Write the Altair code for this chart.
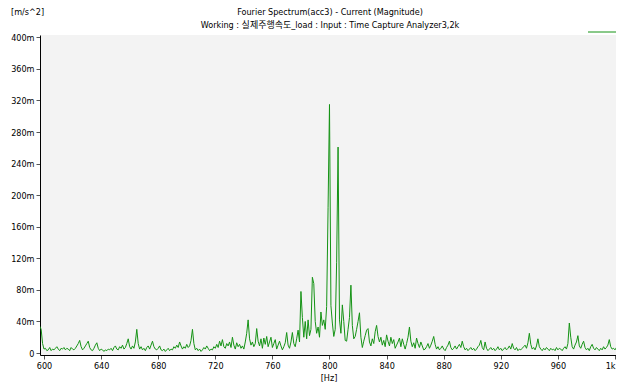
import altair as alt
import pandas as pd

# Spectrum magnitude in milli m/s^2, one value per Hz starting at 597 Hz
start_hz = 597
magnitude_m = [
    34, 30, 12, 5, 6, 3, 4, 7, 3, 5,
    4, 6, 8, 5, 3, 6, 5, 7, 4, 6,
    5, 3, 7, 5, 4, 6, 9, 12, 16, 8,
    4, 6, 9, 12, 15, 7, 4, 3, 6, 10,
    13, 6, 3, 5, 4, 2, 4, 3, 5, 4,
    6, 3, 7, 9, 5, 4, 8, 6, 10, 5,
    7, 12, 18, 8, 5, 9, 6, 14, 30, 12,
    5, 8, 4, 6, 3, 7, 9, 5, 10, 15,
    8, 5, 4, 6, 9, 4, 3, 5, 2, 4,
    6, 3, 5, 4, 8, 6, 10, 7, 14, 9,
    5, 8, 6, 11, 7, 9, 16, 30, 12, 4,
    6, 3, 5, 2, 4, 7, 5, 9, 6, 3,
    5, 4, 8, 6, 11, 7, 15, 9, 17, 8,
    6, 12, 9, 14, 7, 20, 10, 5, 13, 8,
    11, 6, 9, 5, 14, 25, 42, 18, 10, 14,
    8, 12, 31, 15, 9, 18, 6, 19, 11, 21,
    8, 14, 20, 7, 12, 17, 5, 10, 15, 9,
    4, 8, 13, 26, 10, 6, 14, 26, 12, 8,
    18, 29, 14, 78, 45, 20, 40, 18, 42, 22,
    30, 96, 88, 40, 25, 33, 20, 52, 35, 42,
    30, 59, 184, 315, 60, 38, 21, 30, 115, 261,
    42, 25, 61, 40, 16, 15, 30, 45, 86, 35,
    18, 21, 30, 40, 51, 20, 7, 15, 22, 29,
    31, 14, 9, 18, 12, 27, 35, 21, 14, 20,
    10, 16, 8, 23, 15, 9, 20, 12, 17, 6,
    10, 14, 19, 8, 18, 11, 5, 12, 20, 33,
    15, 8, 13, 6, 19, 12, 7, 14, 9, 4,
    5, 8, 12, 6, 10, 15, 21, 11, 5, 8,
    4, 6, 9, 5, 3, 7, 10, 15, 7, 4,
    6, 9, 5, 8, 11, 7, 15, 8, 4, 6,
    3, 5, 7, 4, 6, 3, 5, 8, 10, 16,
    7, 4, 14, 6, 3, 5, 7, 4, 6, 3,
    5, 8, 4, 6, 3, 5, 7, 4, 6, 9,
    5, 12, 6, 4, 7, 3, 5, 4, 6, 8,
    10, 6, 13, 25, 11, 5, 7, 4, 9, 18,
    8, 5, 3, 6, 4, 7, 5, 3, 6, 4,
    5, 3, 7, 4, 6, 5, 3, 6, 8, 5,
    12, 38, 20, 8, 5, 10, 14, 22, 9, 6,
    11, 15, 7, 4, 6, 3, 8, 11, 6, 4,
    7, 5, 3, 6, 4, 8, 5, 7, 10, 17,
    8, 5, 6, 4, 7, 5,
]

x_ticks = [600, 640, 680, 720, 760, 800, 840, 880, 920, 960, 1000]
y_ticks = [0, 40, 80, 120, 160, 200, 240, 280, 320, 360, 400]

title_line1 = "Fourier Spectrum(acc3) - Current (Magnitude)"
title_line2 = "Working : 실제주행속도_load : Input : Time Capture Analyzer3,2k"
y_unit = "[m/s^2]"
x_unit = "[Hz]"

FONT = "'DejaVu Sans Condensed', 'Liberation Sans Narrow', Roboto, 'Noto Sans CJK KR', sans-serif"
W, H = 576, 320

df = pd.DataFrame({
    "hz": [start_hz + i for i in range(len(magnitude_m))],
    "mag": magnitude_m,
})

line = alt.Chart(df).mark_line(color="#159315", strokeWidth=1, clip=True).encode(
    x=alt.X("hz:Q", scale=alt.Scale(domain=[597.2, 1000.7], nice=False, zero=False),
            axis=alt.Axis(values=x_ticks, title=None, grid=False,
                          labelExpr="datum.value == 1000 ? '1k' : datum.value",
                          domainColor="#000000", tickColor="#555555", tickSize=4,
                          labelFont=FONT, labelFontSize=9, labelColor="#000000",
                          labelPadding=2)),
    y=alt.Y("mag:Q", scale=alt.Scale(domain=[-2.5, 403], nice=False, zero=False),
            axis=alt.Axis(values=y_ticks, title=None, grid=False,
                          labelExpr="datum.value == 0 ? '0' : datum.value + 'm'",
                          domainColor="#000000", tickColor="#555555", tickSize=4,
                          labelFont=FONT, labelFontSize=9, labelColor="#000000",
                          labelPadding=2)),
)

texts = pd.DataFrame({"t": [title_line1, title_line2, y_unit, x_unit]})

def txt(label, x, y, align="center", size=9):
    return alt.Chart(texts[texts.t == label]).mark_text(
        font=FONT, fontSize=size, color="#000000", align=align, baseline="middle"
    ).encode(x=alt.value(x), y=alt.value(y), text="t:N")

legend_swatch = alt.Chart(pd.DataFrame({"a": [0]})).mark_rule(
    color="#159315", strokeWidth=1
).encode(x=alt.value(548), x2=alt.value(576), y=alt.value(-3))

chart = alt.layer(
    line,
    txt(title_line1, 290, -23),
    txt(title_line2, 290, -10),
    txt(y_unit, -29, -23, align="left"),
    txt(x_unit, 289, 343),
    legend_swatch,
).properties(
    width=W, height=H,
    autosize=alt.AutoSizeParams(type="none"),
    padding={"left": 32, "top": 27, "right": 0, "bottom": 28},
    background="#ffffff",
).configure_view(fill="#f3f3f3", strokeWidth=0)

chart.save("out.html", embed_options={"renderer": "svg", "actions": False})
